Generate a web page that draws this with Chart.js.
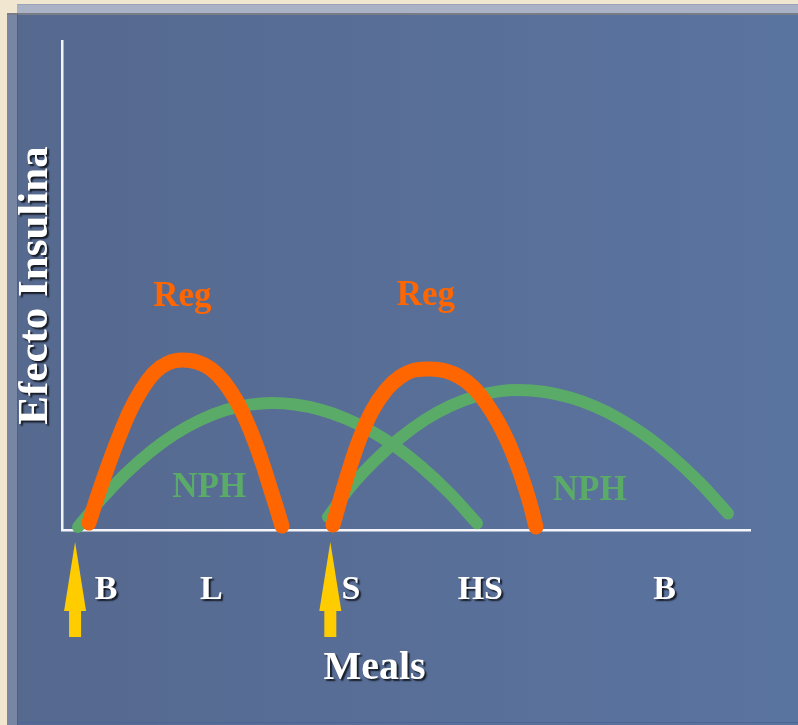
<!DOCTYPE html>
<html><head><meta charset="utf-8">
<script src="https://cdn.jsdelivr.net/npm/chart.js@4.4.1/dist/chart.umd.min.js"></script>
<style>
html,body{margin:0;padding:0;width:798px;height:725px;overflow:hidden;background:#f1e6cf;}
#back{position:absolute;left:17px;top:4px;right:0;bottom:0;background:#aab2c6;border-top:1px solid #9aa3ba;}
#side{position:absolute;left:7px;top:13px;width:11px;bottom:0;background:#7686a3;border-top:2px solid #7a7c84;box-sizing:border-box;}
#panel{position:absolute;left:17px;top:13px;right:0;bottom:0;background:linear-gradient(90deg,#56698f,#5a74a0);border-top:2px solid #787c86;border-left:1px solid #43609a;box-sizing:border-box;}
#inner{position:absolute;left:0;right:0;bottom:2px;height:0;border-bottom:1px solid #4a6598;}
canvas{position:absolute;left:0;top:0;}
</style></head>
<body>
<div id="back"></div><div id="side"></div><div id="panel"><div id="inner"></div></div>
<canvas id="c" width="798" height="725"></canvas>
<script>
// ---- data (x: time units 0..100, y: insulin effect 0..100) ----
const regX1 = [3.92, 5.23, 6.69, 8.28, 9.88, 11.63, 13.52, 15.41, 17.44, 19.62, 21.66, 23.55, 25.29, 26.74, 28.05, 29.22, 30.23, 31.10, 31.98];
const regY1 = [1.43, 7.16, 13.09, 19.02, 24.34, 28.83, 32.31, 34.15, 34.76, 34.36, 32.92, 30.27, 26.58, 22.49, 18.00, 13.29, 8.79, 4.91, 0.82];
const regX2 = [39.39, 40.55, 41.86, 43.31, 45.06, 47.09, 49.13, 51.31, 53.49, 55.81, 57.85, 59.88, 61.63, 63.37, 64.83, 66.13, 67.30, 68.17, 68.90];
const regY2 = [1.02, 6.75, 12.88, 18.81, 24.34, 28.63, 31.29, 32.72, 32.92, 32.52, 31.29, 29.04, 25.97, 22.09, 18.00, 13.50, 8.79, 4.70, 0.61];
const nphX1 = [2.33, 5.52, 9.16, 12.79, 16.42, 20.06, 23.69, 27.33, 30.52, 33.87, 37.50, 41.13, 44.77, 48.40, 52.03, 56.40, 60.32];
const nphY1 = [0.61, 6.01, 11.39, 15.93, 19.63, 22.47, 24.48, 25.64, 25.97, 25.66, 24.62, 22.86, 20.35, 17.12, 13.17, 7.44, 1.39];
const nphX2 = [38.66, 41.86, 45.49, 49.13, 52.76, 56.40, 60.03, 63.66, 66.28, 70.20, 73.84, 77.47, 81.10, 84.74, 88.37, 92.73, 96.80];
const nphY2 = [2.66, 8.71, 14.21, 18.81, 22.54, 25.36, 27.32, 28.40, 28.63, 28.22, 27.08, 25.24, 22.68, 19.39, 15.40, 9.67, 3.37];
const mealLabels = ['B', 'L', 'S', 'HS', 'B'];
const mealLabelX = [6.4, 21.7, 42.0, 60.8, 87.6];
const injectionX = [1.9, 39.0];
const regLabelX = [17.5, 52.9];
const regLabelY = [45.8, 46.0];
const nphLabelX = [21.4, 76.7];
const nphLabelY = [6.75, 6.1];
const yTitle = 'Efecto Insulina';
const xTitle = 'Meals';

const ORANGE = '#ff6600', GREEN = '#5bab68', YELLOW = '#ffcc00';
const pts = (xs, ys) => xs.map((x, i) => ({x: x, y: ys[i]}));
const lineDs = (data, color, w) => ({
  data: data, borderColor: color, borderWidth: w, pointRadius: 0,
  cubicInterpolationMode: 'monotone',
  borderCapStyle: 'round', borderJoinStyle: 'round', fill: false, clip: false
});

const decor = {
  id: 'decor',
  afterDraw(chart) {
    const ctx = chart.ctx, xs = chart.scales.x, ys = chart.scales.y, ca = chart.chartArea;
    ctx.save();
    // arrows
    ctx.fillStyle = YELLOW;
    injectionX.forEach(v => {
      const px = xs.getPixelForValue(v), b = ca.bottom;
      ctx.beginPath();
      ctx.moveTo(px, b + 12);
      ctx.lineTo(px + 11, b + 81);
      ctx.lineTo(px + 6, b + 81);
      ctx.lineTo(px + 6, b + 107);
      ctx.lineTo(px - 6, b + 107);
      ctx.lineTo(px - 6, b + 81);
      ctx.lineTo(px - 11, b + 81);
      ctx.closePath();
      ctx.fill();
    });
    // Reg / NPH labels
    ctx.textAlign = 'center';
    ctx.textBaseline = 'alphabetic';
    ctx.font = 'bold 35px "Liberation Serif", "DejaVu Serif", serif';
    ctx.fillStyle = ORANGE;
    regLabelX.forEach((v, i) => ctx.fillText('Reg', xs.getPixelForValue(v), ys.getPixelForValue(regLabelY[i])));
    ctx.fillStyle = GREEN;
    nphLabelX.forEach((v, i) => ctx.fillText('NPH', xs.getPixelForValue(v), ys.getPixelForValue(nphLabelY[i])));
    // white shadowed texts
    ctx.shadowColor = 'rgba(0,0,0,0.75)';
    ctx.shadowOffsetX = 2; ctx.shadowOffsetY = 2; ctx.shadowBlur = 1.5;
    ctx.fillStyle = '#ffffff';
    ctx.font = 'bold 34px "Liberation Serif", "DejaVu Serif", serif';
    mealLabels.forEach((t, i) => ctx.fillText(t, xs.getPixelForValue(mealLabelX[i]), ca.bottom + 69));
    ctx.font = 'bold 40px "Liberation Serif", "DejaVu Serif", serif';
    ctx.fillText(xTitle, 374.5, ca.bottom + 149);
    ctx.save();
    ctx.translate(36, (ca.top + ca.bottom) / 2);
    ctx.rotate(-Math.PI / 2);
    ctx.textBaseline = 'middle';
    ctx.font = 'bold 43px "Liberation Serif", "DejaVu Serif", serif';
    ctx.fillText(yTitle, 0, 0);
    ctx.restore();
    ctx.restore();
  }
};

new Chart(document.getElementById('c'), {
  type: 'line',
  data: {
    datasets: [
      lineDs(pts(regX1, regY1), ORANGE, 15),
      lineDs(pts(regX2, regY2), ORANGE, 15),
      lineDs(pts(nphX1, nphY1), GREEN, 12),
      lineDs(pts(nphX2, nphY2), GREEN, 12)
    ]
  },
  options: {
    responsive: false,
    animation: false,
    layout: {padding: {left: 62, top: 41, right: 48, bottom: 195}},
    plugins: {legend: {display: false}, tooltip: {enabled: false}},
    scales: {
      x: {type: 'linear', min: 0, max: 100,
          grid: {display: false, drawTicks: false},
          ticks: {display: false},
          border: {display: true, color: '#f4f5fa', width: 2.5}},
      y: {type: 'linear', min: 0, max: 100,
          grid: {display: false, drawTicks: false},
          ticks: {display: false},
          border: {display: true, color: '#f4f5fa', width: 2.5}}
    }
  },
  plugins: [decor]
});
</script>
</body></html>
